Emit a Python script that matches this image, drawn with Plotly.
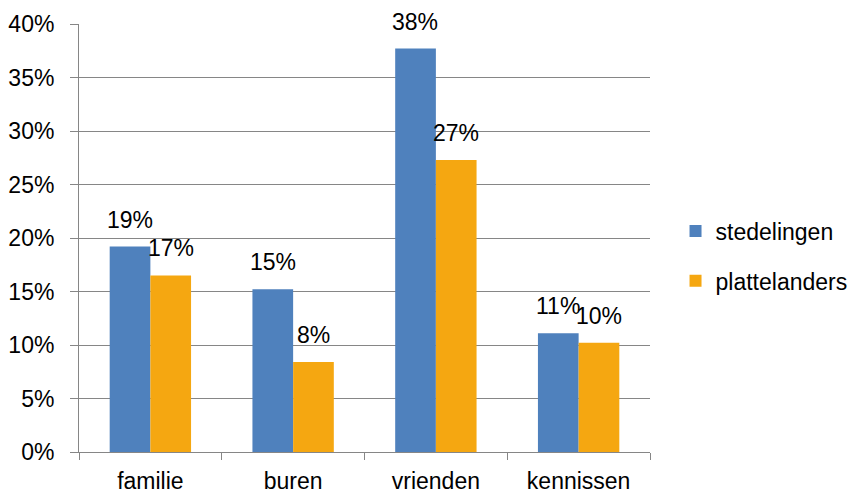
import plotly.graph_objects as go

categories = ["familie", "buren", "vrienden", "kennissen"]
stedelingen = [19.2, 15.2, 37.7, 11.1]
plattelanders = [16.5, 8.4, 27.3, 10.2]
series_names = ["stedelingen", "plattelanders"]
colors = ["#4F81BD", "#F5A711"]
y_ticks = [0, 5, 10, 15, 20, 25, 30, 35, 40]
y_labels = [f"{t}%" for t in y_ticks]

FONT = "Liberation Sans, Arial, sans-serif"
FS = 23

fig = go.Figure()
for i, (name, vals) in enumerate(zip(series_names, [stedelingen, plattelanders])):
    fig.add_trace(go.Bar(
        name=name, x=categories, y=vals, marker_color=colors[i],
        marker_line_width=0, legendgroup=name,
    ))

annotations = []
for i, vals in enumerate([stedelingen, plattelanders]):
    shift = -20.5 if i == 0 else 20.5
    for c, v in zip(categories, vals):
        annotations.append(dict(
            x=c, y=v, xref="x", yref="y", text=f"{int(v + 0.5):d}%",
            showarrow=False, xshift=shift, yanchor="bottom", yshift=12,
            font=dict(family=FONT, size=FS, color="#000000"),
        ))

fig.update_layout(
    width=851, height=489,
    margin=dict(l=71, r=209, t=16, b=45, autoexpand=False),
    paper_bgcolor="white", plot_bgcolor="white",
    barmode="group", bargap=0.43, bargroupgap=0,
    font=dict(family=FONT, size=FS, color="#000000"),
    annotations=annotations,
    legend=dict(
        x=1.0447, xanchor="left", xref="paper", y=0.458, yanchor="middle",
        font=dict(family=FONT, size=FS), traceorder="grouped",
        tracegroupgap=17, itemwidth=30,
    ),
    xaxis=dict(
        showline=True, linecolor="#868686", linewidth=1, automargin=False,
        ticks="outside", tickson="boundaries", ticklen=7, tickcolor="#868686",
        showgrid=False, tickfont=dict(size=FS), ticklabelstandoff=8,
    ),
    yaxis=dict(
        range=[0, 40], tickvals=y_ticks, ticktext=y_labels, automargin=False,
        showline=True, linecolor="#868686", linewidth=1,
        ticks="outside", ticklen=8, tickcolor="#868686",
        showgrid=True, gridcolor="#868686", gridwidth=1,
        zeroline=False, tickfont=dict(size=FS), ticklabelstandoff=11,
    ),
)

fig.write_html("out.html")
